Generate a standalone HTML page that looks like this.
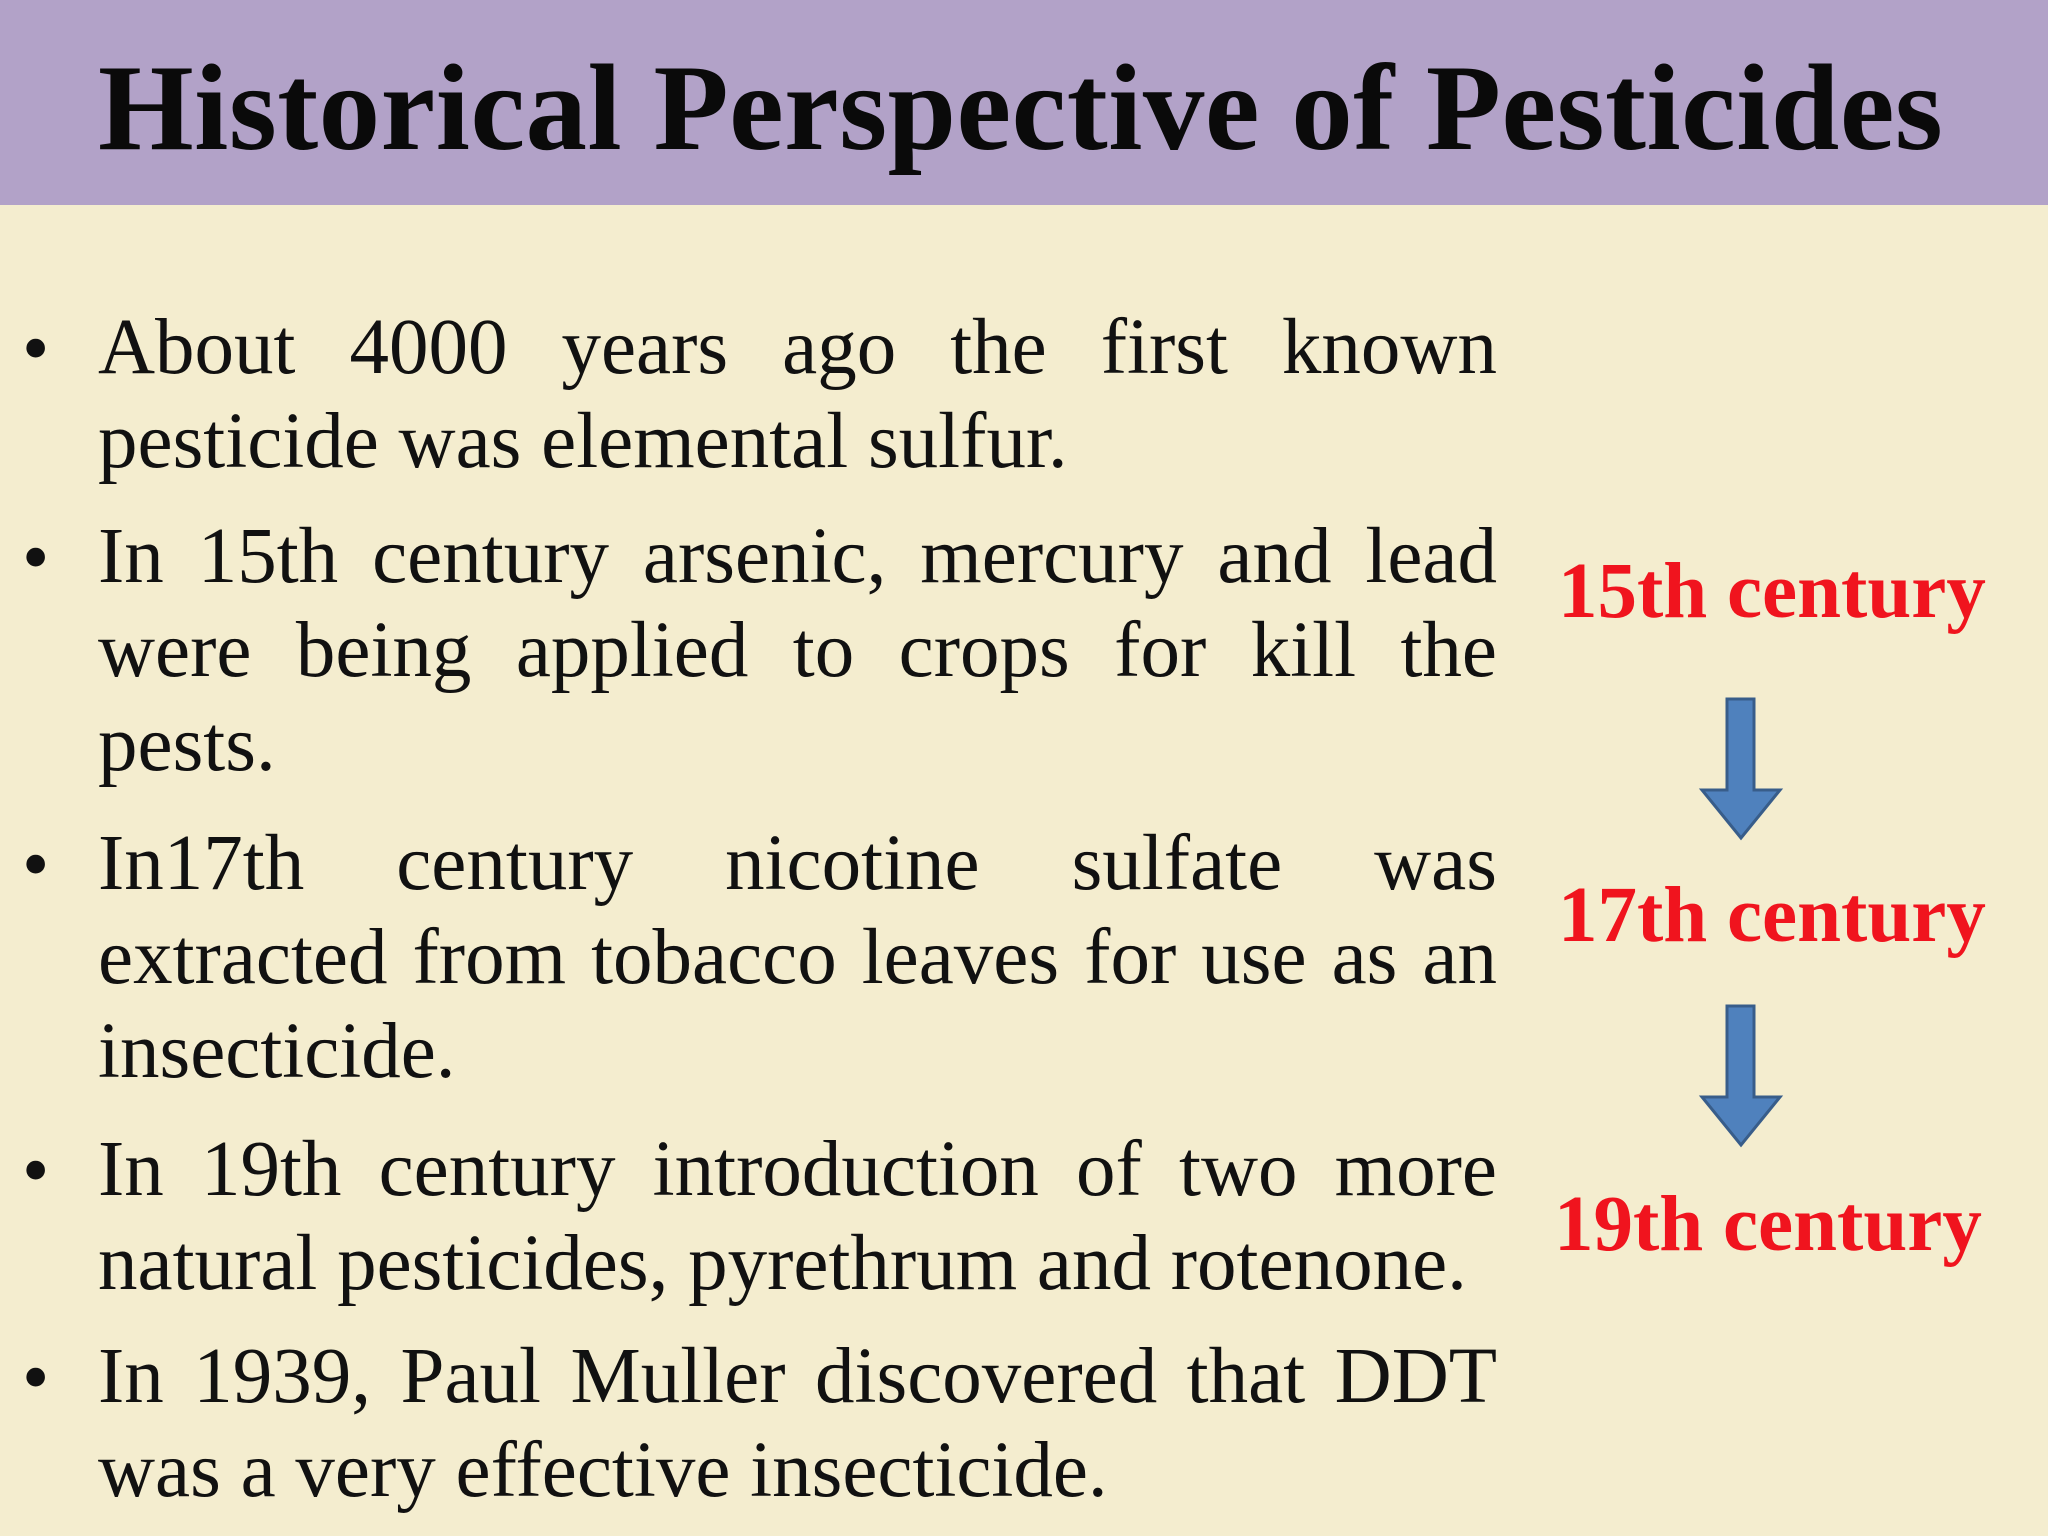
<!DOCTYPE html>
<html><head><meta charset="utf-8"><style>
body{margin:0;width:2048px;height:1536px;overflow:hidden;background:#F4EDCF;position:relative;font-family:"Liberation Serif",serif}
#hdr{position:absolute;left:0;top:0;width:2048px;height:205px;background:#B2A2C8}
#title{position:absolute;left:98px;top:38px;font-size:123px;font-weight:bold;line-height:140px;color:#0a0a0a;white-space:nowrap;letter-spacing:0.5px}
.p{position:absolute;left:98px;width:1399px;font-size:79px;line-height:94px;color:#111}
.p div{white-space:nowrap}
.p .j{text-align:justify;text-align-last:justify;white-space:normal}
.b{position:absolute;left:22px;font-size:78px;line-height:94px;color:#111}
.r{position:absolute;font-size:79px;font-weight:bold;color:#F0141E;white-space:nowrap;line-height:94px}
</style></head><body>
<div id="hdr"></div>
<div id="title">Historical Perspective of Pesticides</div>

<div class="b" style="top:301px">•</div>
<div class="p" style="top:301px"><div class="j">About 4000 years ago the first known</div><div>pesticide was elemental sulfur.</div></div>
<div class="b" style="top:510px">•</div>
<div class="p" style="top:510px"><div class="j">In 15th century arsenic, mercury and lead</div><div class="j">were being applied to crops for kill the</div><div>pests.</div></div>
<div class="b" style="top:817px">•</div>
<div class="p" style="top:817px"><div class="j">In17th century nicotine sulfate was</div><div class="j">extracted from tobacco leaves for use as an</div><div>insecticide.</div></div>
<div class="b" style="top:1123px">•</div>
<div class="p" style="top:1123px"><div class="j">In 19th century introduction of two more</div><div>natural pesticides, pyrethrum and rotenone.</div></div>
<div class="b" style="top:1330px">•</div>
<div class="p" style="top:1330px"><div class="j">In 1939, Paul Muller discovered that DDT</div><div>was a very effective insecticide.</div></div>

<div class="r" style="left:1558px;top:545px">15th century</div>
<div class="r" style="left:1558px;top:869px">17th century</div>
<div class="r" style="left:1554px;top:1178px">19th century</div>

<svg style="position:absolute;left:0;top:0" width="2048" height="1536">
<polygon points="1727,699 1754,699 1754,790 1780,790 1741,838 1702,790 1727,790" fill="#4F81BD" stroke="#385D8A" stroke-width="3"/>
<polygon points="1727,1006 1754,1006 1754,1097 1780,1097 1741,1145 1702,1097 1727,1097" fill="#4F81BD" stroke="#385D8A" stroke-width="3"/>
</svg>
</body></html>
